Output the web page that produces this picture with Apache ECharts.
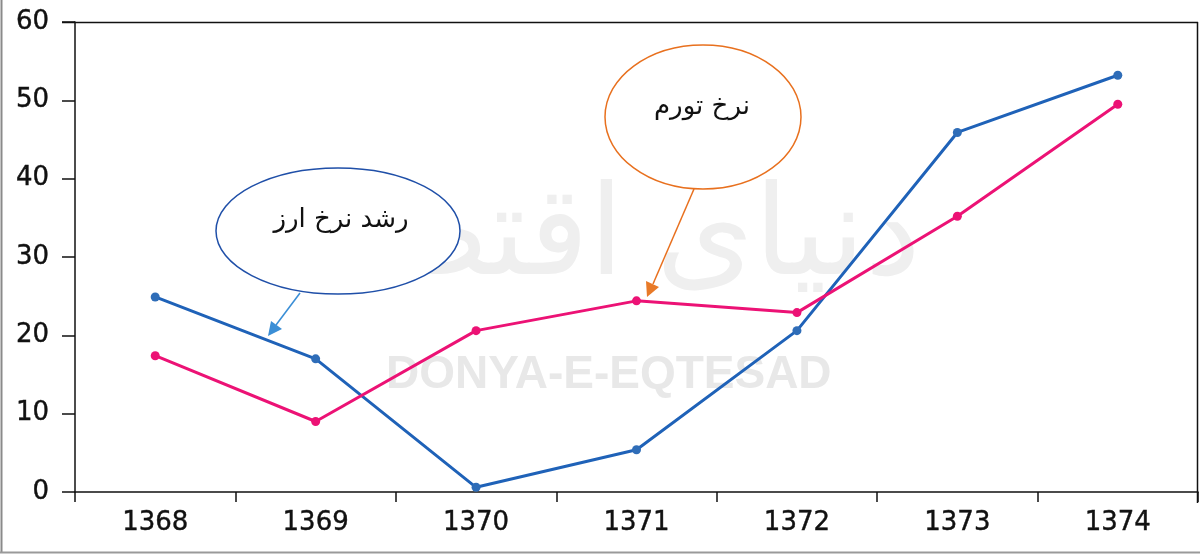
<!DOCTYPE html>
<html>
<head>
<meta charset="utf-8">
<script src="https://cdn.jsdelivr.net/npm/echarts@6/dist/echarts.min.js"></script>
<style>
html,body{margin:0;padding:0;background:#fff;}
#chart{width:1200px;height:554px;}
</style>
</head>
<body>
<div id="chart"></div>
<script>
// Data
var years = ['1368', '1369', '1370', '1371', '1372', '1373', '1374'];
var exchangeGrowth = [24.9, 17.0, 0.6, 5.4, 20.6, 45.9, 53.2];   // رشد نرخ ارز (blue)
var inflation = [17.4, 9.0, 20.6, 24.4, 22.9, 35.2, 49.5];       // نرخ تورم (pink)
var yTicks = [0, 10, 20, 30, 40, 50, 60];
var labelExchange = 'رشد نرخ ارز';
var labelInflation = 'نرخ تورم';

var chart = echarts.init(document.getElementById('chart'));

var axisFont = {fontFamily: 'DejaVu Sans', fontSize: 26, color: '#111', textBorderColor: '#111', textBorderWidth: 0.4};

var option = {
  animation: false,
  backgroundColor: '#fff',
  grid: {left: 75, right: 2, top: 22, bottom: 62, show: false},
  xAxis: {
    type: 'category',
    data: years,
    boundaryGap: true,
    axisLine: {lineStyle: {color: '#111', width: 1.5}},
    axisTick: {show: true, length: 10, lineStyle: {color: '#111', width: 1.5}, alignWithLabel: false},
    axisLabel: Object.assign({margin: 18}, axisFont),
    splitLine: {show: false}
  },
  yAxis: {
    type: 'value',
    min: yTicks[0],
    max: yTicks[yTicks.length - 1],
    interval: yTicks[1] - yTicks[0],
    axisLine: {show: true, lineStyle: {color: '#111', width: 1.5}},
    axisTick: {show: true, length: 13, lineStyle: {color: '#111', width: 1.5}},
    axisLabel: Object.assign({margin: 26}, axisFont),
    splitLine: {show: false}
  },
  series: [
    {
      name: labelExchange,
      type: 'line',
      data: exchangeGrowth,
      symbol: 'circle',
      symbolSize: 9,
      z: 3,
      lineStyle: {color: '#1f62b8', width: 3},
      itemStyle: {color: '#2f6db8'}
    },
    {
      name: labelInflation,
      type: 'line',
      data: inflation,
      symbol: 'circle',
      symbolSize: 9,
      z: 4,
      lineStyle: {color: '#ec1275', width: 3},
      itemStyle: {color: '#ec1275'}
    }
  ],
  graphic: [
    // watermarks
    {type: 'text', z: -1, silent: true,
      style: {x: 605, y: 238, text: 'دنیای اقتصاد', font: '125px "Noto Sans"', fill: '#efefef', align: 'center', verticalAlign: 'middle'}},
    {type: 'text', left: 386, top: 352, z: -1, silent: true,
      style: {text: 'DONYA-E-EQTESAD', font: 'bold 46px "Liberation Sans"', fill: '#e8e8e8'}},
    // plot frame top and right
    {type: 'line', z: 5, shape: {x1: 62, y1: 22.5, x2: 1198, y2: 22.5}, style: {stroke: '#111', lineWidth: 1.5}},
    {type: 'line', z: 5, shape: {x1: 1197.5, y1: 22, x2: 1197.5, y2: 503}, style: {stroke: '#111', lineWidth: 1.5}},
    // blue annotation
    {type: 'ellipse', shape: {cx: 338, cy: 231, rx: 122, ry: 63}, z: 10,
      style: {fill: '#fff', stroke: '#1f4fa8', lineWidth: 1.5}},
    {type: 'text', z: 11, style: {x: 341, y: 220, text: labelExchange, font: '26px "DejaVu Sans"', fill: '#111', align: 'center', verticalAlign: 'middle'}},
    {type: 'line', z: 10, shape: {x1: 300, y1: 293, x2: 276, y2: 325}, style: {stroke: '#3a8ed6', lineWidth: 1.5}},
    {type: 'polygon', z: 10, shape: {points: [[268, 336], [271, 321], [282, 329]]}, style: {fill: '#3a8ed6'}},
    // orange annotation
    {type: 'ellipse', shape: {cx: 703, cy: 117, rx: 98, ry: 72}, z: 10,
      style: {fill: '#fff', stroke: '#e8701e', lineWidth: 1.5}},
    {type: 'text', z: 11, style: {x: 702, y: 107, text: labelInflation, font: '26px "DejaVu Sans"', fill: '#111', align: 'center', verticalAlign: 'middle'}},
    {type: 'line', z: 10, shape: {x1: 694, y1: 189, x2: 653, y2: 284}, style: {stroke: '#e8701e', lineWidth: 1.5}},
    {type: 'polygon', z: 10, shape: {points: [[647, 297], [646, 281], [659, 287]]}, style: {fill: '#e87a28'}},
    // outer frame (left and bottom)
    {type: 'line', z: 20, shape: {x1: 1.5, y1: 0, x2: 1.5, y2: 553}, style: {stroke: '#8a8a8a', lineWidth: 2}},
    {type: 'line', z: 20, shape: {x1: 0, y1: 552.5, x2: 1200, y2: 552.5}, style: {stroke: '#9a9a9a', lineWidth: 2}}
  ]
};
chart.setOption(option);
</script>
</body>
</html>
